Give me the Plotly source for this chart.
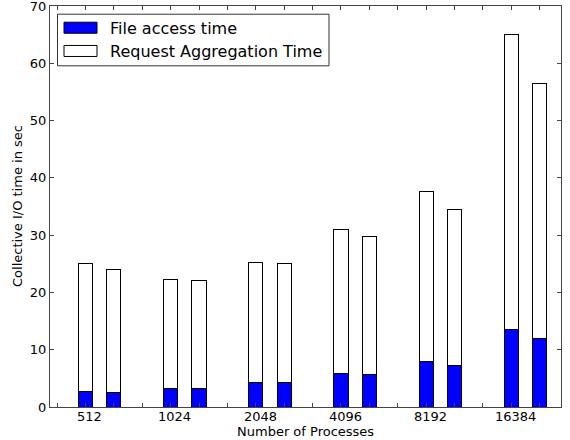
import plotly.graph_objects as go

# ---- data ----
processes = ["512", "1024", "2048", "4096", "8192", "16384"]
file_access_a = [2.7, 3.3, 4.3, 5.8, 8.0, 13.6]
request_agg_a = [22.3, 18.9, 21.0, 25.1, 29.7, 51.5]
file_access_b = [2.6, 3.3, 4.3, 5.7, 7.2, 11.9]
request_agg_b = [21.4, 18.7, 20.7, 24.1, 27.3, 44.6]
y_ticks = [0, 10, 20, 30, 40, 50, 60, 70]

FONT = "DejaVu Sans"
W, H = 570, 440
L, R, T, B = 50, 9, 6.3, 33.3
PW, PH = W - L - R, H - T - B

# layout positions (groups of 3 units, two bars per group)
xa = [3 * i + 1.25 for i in range(len(processes))]
xb = [3 * i + 2.25 for i in range(len(processes))]
xs = xa + xb

fig = go.Figure()
fig.add_trace(go.Bar(
    x=xs, y=file_access_a + file_access_b, width=0.5,
    name="File access time",
    marker=dict(color="#0000ff", line=dict(color="black", width=1)),
    showlegend=False,
))
fig.add_trace(go.Bar(
    x=xs, y=request_agg_a + request_agg_b, width=0.5,
    name="Request Aggregation Time",
    marker=dict(color="white", line=dict(color="black", width=1)),
    showlegend=False,
))

def px_to_paper_x(px):
    return (px - L) / PW

def px_to_paper_y(py):
    return (H - B - py) / PH

shapes = []
annotations = []
# legend box
shapes.append(dict(type="rect", xref="paper", yref="paper",
                   x0=px_to_paper_x(57.5), x1=px_to_paper_x(329),
                   y0=px_to_paper_y(66), y1=px_to_paper_y(14.5),
                   line=dict(color="#333333", width=1), fillcolor="white"))
legend_items = [("File access time", "#0000ff", 22.5, 33.5, 28.5),
                ("Request Aggregation Time", "white", 45.7, 56.7, 51.5)]
for label, color, y0, y1, yc in legend_items:
    shapes.append(dict(type="rect", xref="paper", yref="paper",
                       x0=px_to_paper_x(64), x1=px_to_paper_x(97),
                       y0=px_to_paper_y(y1), y1=px_to_paper_y(y0),
                       line=dict(color="black", width=1), fillcolor=color))
    annotations.append(dict(text=label, xref="paper", yref="paper",
                            x=px_to_paper_x(108), y=px_to_paper_y(yc),
                            xanchor="left", yanchor="middle", showarrow=False,
                            font=dict(family=FONT, size=16, color="black")))

# category labels under groups
for i, p in enumerate(processes):
    annotations.append(dict(text=p, x=3 * i + 1.4, xref="x", yref="paper",
                            y=px_to_paper_y(416), xanchor="center", yanchor="middle",
                            showarrow=False,
                            font=dict(family=FONT, size=13, color="black")))
# axis titles
annotations.append(dict(text="Number of Processes", xref="paper", yref="paper",
                        x=0.5, y=px_to_paper_y(431), xanchor="center", yanchor="middle",
                        showarrow=False, font=dict(family=FONT, size=13, color="black")))
annotations.append(dict(text="Collective I/O time in sec", xref="paper", yref="paper",
                        x=px_to_paper_x(17.5), y=0.5, xanchor="center", yanchor="middle",
                        textangle=-90, showarrow=False,
                        font=dict(family=FONT, size=13, color="black")))

fig.update_layout(
    width=W, height=H,
    margin=dict(l=L, r=R, t=T, b=B, pad=0, autoexpand=False),
    barmode="stack",
    plot_bgcolor="white", paper_bgcolor="white",
    shapes=shapes, annotations=annotations,
    font=dict(family=FONT, size=13, color="black"),
)
fig.update_xaxes(range=[0, 18], tickmode="array",
                 tickvals=[k + 0.25 for k in range(18)],
                 ticks="inside", ticklen=4, tickcolor="#444444",
                 showticklabels=False, showgrid=False, zeroline=False, automargin=False,
                 showline=True, linecolor="#444444", linewidth=1.2, mirror="ticks")
fig.update_yaxes(range=[0, 70], tickmode="array", tickvals=y_ticks,
                 ticks="inside", ticklen=4, tickcolor="#444444",
                 showgrid=False, zeroline=False, automargin=False,
                 ticklabeloverflow="allow",
                 showline=True, linecolor="#444444", linewidth=1.2, mirror="ticks",
                 tickfont=dict(family=FONT, size=13, color="black"))

fig.write_html("out.html", config={"displayModeBar": False},
               post_script="document.body.style.margin='0';document.body.style.overflow='hidden';")
